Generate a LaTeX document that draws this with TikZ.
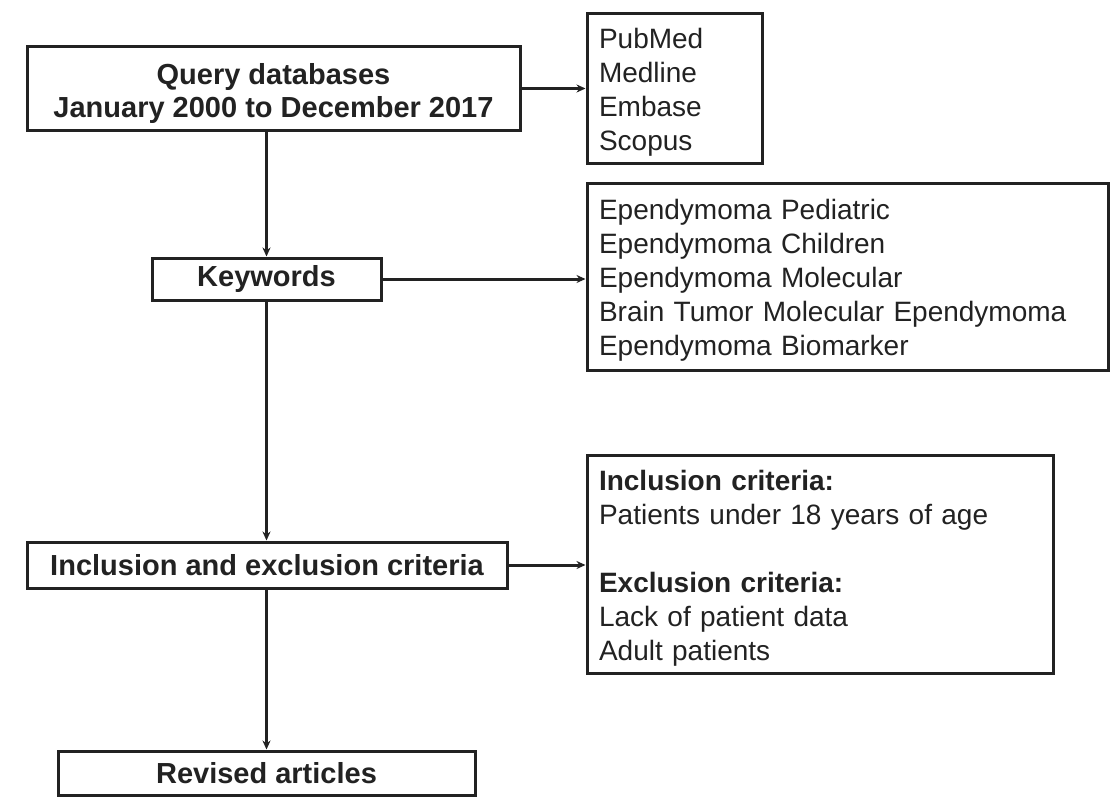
\documentclass[tikz,border=0pt]{standalone}
\usepackage{fontspec}
\setmainfont{Liberation Sans}
\usetikzlibrary{arrows.meta}
\definecolor{ink}{HTML}{222222}
\newcommand{\topstrut}{\rule{0pt}{28.5pt}}
\tikzset{
  box/.style={draw=ink, line width=3pt, rectangle, inner sep=0pt, align=center,
    font=\fontsize{29}{33}\selectfont\bfseries, text=ink},
  listbox/.style={draw=ink, line width=3pt, rectangle, inner ysep=0pt, inner xsep=12pt, align=left,
    font=\fontsize{28}{34}\selectfont, text=ink},
  conn/.style={draw=ink, line width=3pt, -{Stealth[length=9pt,width=8pt]}}
}
\begin{document}
\begin{tikzpicture}[x=1pt,y=-1pt]
\fill[white] (0,0) rectangle (1110,797);
\useasboundingbox (0,0) rectangle (1110,797);

\node[box, minimum width=493pt, minimum height=83pt] (q) at (273.5,88.5)
  {\rule{0pt}{31pt}Query databases\\January 2000 to December 2017};
\node[listbox, text width=151pt, minimum height=149pt] (db) at (674.5,88.5)
  {\topstrut PubMed\\Medline\\Embase\\Scopus};
\node[box, minimum width=229pt, minimum height=42pt] (kw) at (266.5,279) {Keywords};
\node[listbox, text width=497pt, minimum height=187pt] (kl) at (847.5,276.5)
  {\topstrut Ependymoma Pediatric\\Ependymoma Children\\Ependymoma Molecular\\Brain Tumor Molecular Ependymoma\\Ependymoma Biomarker};
\node[box, minimum width=480pt, minimum height=46pt] (ie) at (267,565) {Inclusion and exclusion criteria};
\node[listbox, text width=442pt, minimum height=218pt] (cr) at (820,564)
  {\topstrut\textbf{Inclusion criteria:}\\Patients under 18 years of age\\[34pt]\textbf{Exclusion criteria:}\\Lack of patient data\\Adult patients};
\node[box, minimum width=417pt, minimum height=44pt] (ra) at (266.5,773) {Revised articles};

\draw[conn] (q.east) -- (q.east -| db.west);
\draw[conn] (kw.east) -- (kw.east -| kl.west);
\draw[conn] (ie.east) -- (ie.east -| cr.west);
\draw[conn] (q.south -| kw.north) -- (kw.north);
\draw[conn] (kw.south) -- (ie.north -| kw.south);
\draw[conn] (ie.south -| ra.north) -- (ra.north);
\end{tikzpicture}
\end{document}
